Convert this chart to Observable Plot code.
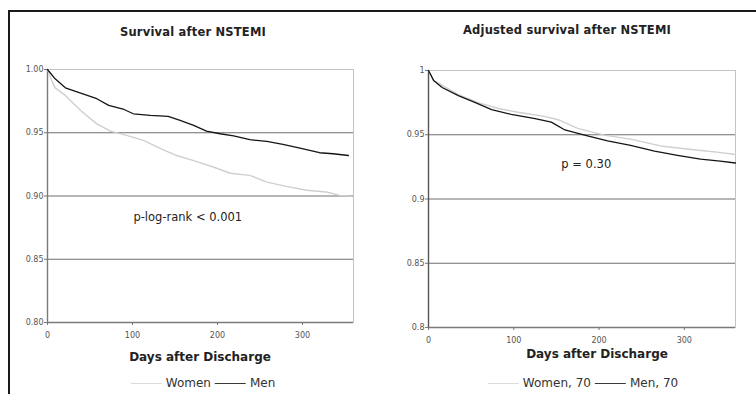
<!DOCTYPE html>
<html>
<head>
<meta charset="utf-8">
<script src="https://cdn.jsdelivr.net/npm/d3@7"></script>
<script src="https://cdn.jsdelivr.net/npm/@observablehq/plot@0.6"></script>
<style>
  html, body { margin: 0; padding: 0; background: #fff; }
  #wrap { position: relative; width: 756px; height: 394px; overflow: hidden; font-family: "DejaVu Sans", sans-serif; }
  .abs { position: absolute; white-space: nowrap; }
  .title { font-weight: bold; font-size: 11.5px; color: #222; transform: translateX(-50%); letter-spacing: 0.2px; }
  .xlab { font-weight: bold; font-size: 12px; color: #222; transform: translateX(-50%); }
  .leg { font-size: 12px; color: #333; display: flex; align-items: center; transform: translateX(-50%); }
  .leg .sw { display: inline-block; width: 31px; height: 0; margin: 0 4px 0 4px; }
  #frame { position: absolute; left: 8px; top: 10px; width: 800px; height: 420px; border-left: 2px solid #1a1a1a; border-top: 2px solid #1a1a1a; }
</style>
</head>
<body>
<div id="wrap">
  <div id="frame"></div>
</div>
<script>
// ---- Data ----
// Panel A: unadjusted survival
const menDaysA    = [0, 9, 21, 39, 58, 72, 90, 101, 121, 142, 156, 172, 187, 203, 219, 238, 258, 277, 297, 320, 336, 354];
const menSurvA    = [1.000, 0.9926, 0.9855, 0.9813, 0.9769, 0.9716, 0.9684, 0.9650, 0.9637, 0.9629, 0.9597, 0.9558, 0.9513, 0.9492, 0.9476, 0.9445, 0.9432, 0.9408, 0.9379, 0.9342, 0.9334, 0.9320];
const womenDaysA  = [0, 5, 9, 21, 39, 58, 74, 93, 113, 133, 152, 172, 195, 215, 238, 258, 281, 305, 328, 344, 357];
const womenSurvA  = [1.000, 0.9913, 0.9855, 0.9795, 0.9676, 0.9570, 0.9513, 0.9479, 0.9440, 0.9374, 0.9320, 0.9280, 0.9229, 0.9180, 0.9163, 0.9110, 0.9076, 0.9045, 0.9032, 0.9005, 0.8997];
// Panel B: adjusted survival (age 70)
const menDaysB    = [0, 6, 16, 35, 55, 74, 97, 125, 144, 160, 183, 210, 237, 265, 292, 319, 342, 360];
const menSurvB    = [1.000, 0.9923, 0.9868, 0.9804, 0.9750, 0.9696, 0.9658, 0.9625, 0.9598, 0.9537, 0.9497, 0.9452, 0.9418, 0.9373, 0.9340, 0.9310, 0.9294, 0.9280];
const womenDaysB  = [0, 6, 35, 58, 82, 105, 136, 152, 175, 206, 237, 272, 311, 338, 360];
const womenSurvB  = [1.000, 0.9923, 0.9812, 0.9750, 0.9704, 0.9675, 0.9643, 0.9617, 0.9550, 0.9497, 0.9466, 0.9413, 0.9383, 0.9365, 0.9346];

const xTicks = [0, 100, 200, 300];
const yTicks = [0.80, 0.85, 0.90, 0.95, 1.00];
const gridTicks = [0.85, 0.90, 0.95];

const titles = ["Survival after NSTEMI", "Adjusted survival after NSTEMI"];
const xLabel = "Days after Discharge";
const legendA = ["Women", "Men"];
const legendB = ["Women, 70", "Men, 70"];
const noteA = {day: 165, surv: 0.8832, text: "p-log-rank < 0.001"};
const noteB = {day: 185, surv: 0.9270, text: "p = 0.30"};

const zip = (xs, ys, g) => xs.map((x, i) => ({day: x, surv: ys[i], g}));

function panel({men, women, note, fmt, ml, mr, mt, mb, h, axisColor}) {
  return Plot.plot({
    width: 378, height: h,
    marginLeft: ml, marginRight: mr, marginTop: mt, marginBottom: mb,
    style: {fontFamily: "DejaVu Sans, sans-serif", fontSize: "8px", color: "#555", background: "transparent", overflow: "visible"},
    x: {domain: [0, 360], ticks: xTicks, tickSize: 3, tickPadding: 6, label: null, tickFormat: d3.format("d")},
    y: {domain: [0.8, 1.0], ticks: yTicks, tickSize: 3, tickPadding: 1, label: null, tickFormat: fmt},
    marks: [
      Plot.frame({stroke: "#c4c4c4", strokeWidth: 1}),
      Plot.ruleY(gridTicks, {stroke: "#6e6e6e", strokeWidth: 1.2}),
      Plot.ruleY([0.8], {stroke: "#7a7a7a", strokeWidth: 1.6}),
      Plot.ruleX([0], {stroke: axisColor, strokeWidth: 1.4}),
      Plot.axisX({ticks: xTicks, tickSize: 3, tickPadding: 7, stroke: "#777", tickFormat: d3.format("d"), fill: "#555"}),
      Plot.axisY({ticks: yTicks, tickSize: 3, tickPadding: 1, stroke: "#777", tickFormat: fmt, fill: "#555"}),
      Plot.line(women, {x: "day", y: "surv", stroke: "#cfcfcf", strokeWidth: 1.4}),
      Plot.line(men, {x: "day", y: "surv", stroke: "#151515", strokeWidth: 1.3}),
      Plot.text([note], {x: "day", y: "surv", text: "text", fontSize: 11.5, fill: "#222", textAnchor: "middle"})
    ]
  });
}

const wrap = document.getElementById("wrap");

const svgA = panel({
  men: zip(menDaysA, menSurvA, "Men"), women: zip(womenDaysA, womenSurvA, "Women"),
  note: noteA, fmt: d3.format(".2f"),
  ml: 47, mr: 25, mt: 69, mb: 24, h: 346, axisColor: "#7a7a7a"
});
const svgB = panel({
  men: zip(menDaysB, menSurvB, "Men, 70"), women: zip(womenDaysB, womenSurvB, "Women, 70"),
  note: noteB, fmt: d => String(+d.toFixed(2)),
  ml: 50, mr: 21, mt: 70, mb: 24, h: 351, axisColor: "#555"
});
[svgA, svgB].forEach((s, i) => {
  s.style.position = "absolute";
  s.style.left = (i * 378) + "px";
  s.style.top = "0px";
  wrap.appendChild(s);
});

function addDiv(cls, html, left, top) {
  const d = document.createElement("div");
  d.className = "abs " + cls;
  d.innerHTML = html;
  d.style.left = left + "px";
  d.style.top = top + "px";
  wrap.appendChild(d);
  return d;
}
addDiv("title", titles[0], 193, 25);
addDiv("title", titles[1], 567, 23);
addDiv("xlab", xLabel, 200, 350);
addDiv("xlab", xLabel, 597, 347);

function legend(labels, cx, top) {
  const html =
    `<span class="sw" style="border-top:1.2px solid #dcdcdc"></span><span>${labels[0]}</span>` +
    `<span class="sw" style="border-top:1.2px solid #3a3a3a"></span><span>${labels[1]}</span>`;
  addDiv("leg", html, cx, top);
}
legend(legendA, 201, 376);
legend(legendB, 581, 376);
</script>
</body>
</html>
